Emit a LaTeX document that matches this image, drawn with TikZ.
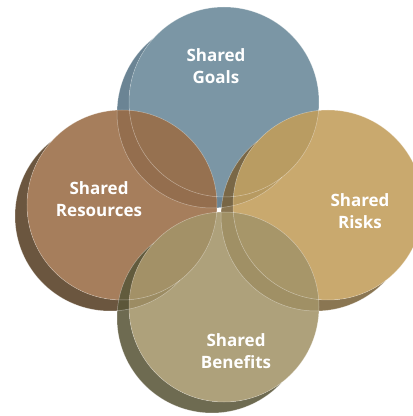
\documentclass[tikz,border=0pt]{standalone}
\usepackage{fontspec}
\setmainfont{Open Sans}
\definecolor{goalsface}{HTML}{698898}
\definecolor{goalsshade}{HTML}{567385}
\definecolor{resface}{HTML}{9A6C45}
\definecolor{resshade}{HTML}{573F24}
\definecolor{riskface}{HTML}{C29D5A}
\definecolor{riskshade}{HTML}{7A633A}
\definecolor{benface}{HTML}{A39469}
\definecolor{benshade}{HTML}{5A5639}
\newcommand\petalR{95}
% #1,#2: centre of the face; #3: face colour; #4: shadow colour
\newcommand\petaldisc[4]{%
  \fill[face,#4] (#1-12,#2-11) ++(127.6:\petalR)
    arc[start angle=127.6,end angle=317.4,radius=\petalR]
    arc[start angle=307.6,end angle=137.4,radius=\petalR] -- cycle;
  \fill[face,#3] (#1,#2) circle[radius=\petalR];
}
% light rim on the face and on the visible part of the shadow
\newcommand\petalrim[2]{%
  \draw[rim] (#1,#2) circle[radius=\petalR];
  \draw[rim] (#1-12,#2-11) ++(127.6:\petalR)
    arc[start angle=127.6,end angle=317.4,radius=\petalR];
}
\begin{document}
\begin{tikzpicture}[x=1pt,y=1pt,
  face/.style={fill opacity=0.88},
  rim/.style={draw=white, draw opacity=0.4, line width=0.5pt},
  petallabel/.style={text=white, font=\fontsize{17}{22}\selectfont\bfseries, align=center}]
\useasboundingbox (0,0) rectangle (413,416);
\petaldisc{224}{314}{goalsface}{goalsshade}
\petaldisc{122}{211}{resface}{resshade}
\petaldisc{328}{211}{riskface}{riskshade}
\petaldisc{224}{109}{benface}{benshade}
\petalrim{224}{314}
\petalrim{122}{211}
\petalrim{328}{211}
\petalrim{224}{109}
\node[petallabel] (goals) at (216,350) {Shared\\Goals};
\node[petallabel] (resources) at (99,217) {Shared\\Resources};
\node[petallabel] (risks) at (360,205) {Shared\\Risks};
\node[petallabel] (benefits) at (236,65) {Shared\\Benefits};
\end{tikzpicture}
\end{document}
